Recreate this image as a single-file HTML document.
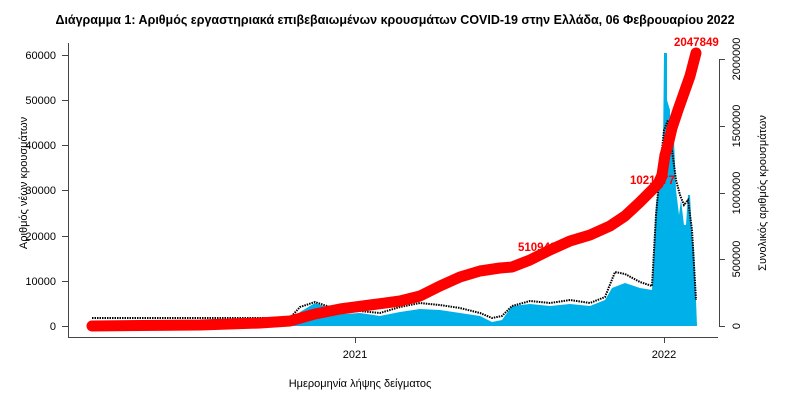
<!DOCTYPE html>
<html><head><meta charset="utf-8"><style>
body{margin:0;background:#fff;}
svg{display:block;font-family:"Liberation Sans",sans-serif;}
</style></head><body>
<svg width="804" height="403" viewBox="0 0 804 403">
<text x="395" y="24" text-anchor="middle" font-size="12.5" font-weight="bold" fill="#000">Διάγραμμα 1: Αριθμός εργαστηριακά επιβεβαιωμένων κρουσμάτων COVID-19 στην Ελλάδα, 06 Φεβρουαρίου 2022</text>
<polygon fill="#00b0e8" points="92,326 92,323 290,323 300,312 315,303 330,308 345,314 360,313 380,316 400,312 420,309 440,310 460,313 480,316 492,322 502,320 512,306 530,304 550,306 570,304 590,306 605,300 612,288 625,283 640,288 652,290 656,205 660,180 663,150 664,53 667,53 667,100 670,110 671,145 674,140 676,190 679,215 681,200 684,225 686,225 688,195 690,195 692,235 694,250 696,300 697,326"/>
<polyline fill="none" stroke="#000" stroke-width="2" stroke-dasharray="1.5,1" points="92,318 290,318 300,307 315,302 330,307 345,312 360,311 380,313 400,307 420,303 440,305 460,308 480,313 492,318 502,316 512,306 530,301 550,303 570,300 590,303 605,297 615,272 625,274 640,282 652,286 656,215 660,170 664,130 668,120 672,150 676,180 680,195 684,205 688,200 692,230 696,300"/>
<polyline fill="none" stroke="#ff0000" stroke-width="11" stroke-linecap="round" stroke-linejoin="round" points="92,326 200,325 260,323 290,321 315,314 340,309 370,305 400,301 420,296 440,286 460,277 480,271 500,268 512,267 530,260 550,250 570,241 590,235 610,226 625,216 640,202 650,192 658,184 662,175 665,155 668,145 672,128 678,110 684,93 690,76 696,53"/>
<text x="518" y="251" font-size="11.5" font-weight="bold" fill="#ff0000">510948</text>
<text x="630" y="184" font-size="11.5" font-weight="bold" fill="#ff0000">1021977</text>
<text x="674" y="46" font-size="11.5" font-weight="bold" fill="#ff0000">2047849</text>
<g stroke="#444" stroke-width="1" fill="none">
<line x1="68.5" y1="43" x2="68.5" y2="337"/>
<line x1="68" y1="337.5" x2="718" y2="337.5"/>
<line x1="719.5" y1="59" x2="719.5" y2="326"/>
<line x1="62" y1="55.5" x2="68" y2="55.5"/><line x1="62" y1="100.5" x2="68" y2="100.5"/><line x1="62" y1="145.5" x2="68" y2="145.5"/><line x1="62" y1="190.5" x2="68" y2="190.5"/><line x1="62" y1="236.5" x2="68" y2="236.5"/><line x1="62" y1="281.5" x2="68" y2="281.5"/><line x1="62" y1="326.5" x2="68" y2="326.5"/>
<line x1="719" y1="59.5" x2="725" y2="59.5"/><line x1="719" y1="126.5" x2="725" y2="126.5"/><line x1="719" y1="193.5" x2="725" y2="193.5"/><line x1="719" y1="259.5" x2="725" y2="259.5"/><line x1="719" y1="326.5" x2="725" y2="326.5"/>
<line x1="355.5" y1="337" x2="355.5" y2="343"/><line x1="664.5" y1="337" x2="664.5" y2="343"/>
</g>
<g font-size="11" fill="#000" text-anchor="end">
<text x="56" y="59">60000</text><text x="56" y="104">50000</text><text x="56" y="149">40000</text><text x="56" y="194">30000</text><text x="56" y="240">20000</text><text x="56" y="285">10000</text><text x="56" y="330">0</text>
</g>
<g font-size="11" fill="#000" text-anchor="middle">
<text transform="translate(740,59) rotate(-90)">2000000</text>
<text transform="translate(740,126) rotate(-90)">1500000</text>
<text transform="translate(740,193) rotate(-90)">1000000</text>
<text transform="translate(740,259) rotate(-90)">500000</text>
<text transform="translate(740,326) rotate(-90)">0</text>
<text x="355" y="358">2021</text><text x="664" y="358">2022</text>
<text x="360" y="387">Ημερομηνία λήψης δείγματος</text>
<text transform="translate(27,183) rotate(-90)">Αριθμός νέων κρουσμάτων</text>
<text transform="translate(766,193) rotate(-90)">Συνολικός αριθμός κρουσμάτων</text>
</g>
</svg>
</body></html>
